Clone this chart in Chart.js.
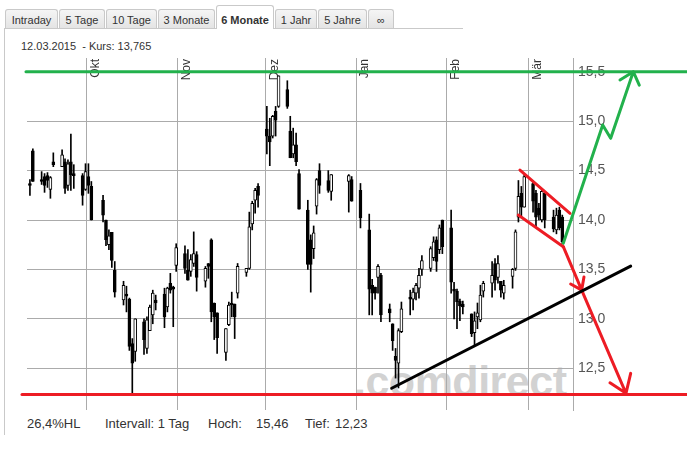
<!DOCTYPE html>
<html><head><meta charset="utf-8">
<script src="https://cdn.jsdelivr.net/npm/chart.js@4/dist/chart.umd.min.js"></script>
<style>
html,body{margin:0;padding:0;background:#fff;}
#wrap{position:relative;width:687px;height:452px;overflow:hidden;font-family:"Liberation Sans",Arial,sans-serif;color:#333;}
.tab{position:absolute;top:9px;height:19px;box-sizing:border-box;border:1px solid #c9c9c9;border-bottom:none;border-radius:3px 3px 0 0;background:linear-gradient(#f5f5f5,#e4e4e4);font-size:11px;color:#333;text-align:center;line-height:21px;}
.tab.active{top:5px;height:24px;background:#fff;font-weight:bold;line-height:28px;z-index:2;}
#tabline{position:absolute;left:4px;top:28px;width:459px;height:1px;background:#c9c9c9;}
#leftline{position:absolute;left:4px;top:28px;width:1px;height:407px;background:#c9c9c9;}
#head{position:absolute;left:21px;top:40px;font-size:11px;color:#333;white-space:pre;}
#wm{position:absolute;left:0;top:0;width:687px;height:410px;overflow:hidden;}
#wm span{position:absolute;left:354px;top:357px;font-size:43px;font-weight:bold;color:#d2d2d2;letter-spacing:-0.5px;white-space:nowrap;}
#c{position:absolute;left:0;top:0;z-index:1;}
.ft{position:absolute;top:416px;font-size:13px;color:#333;white-space:nowrap;}
</style></head>
<body>
<div id="wrap">
  <div class="tab" style="left:5px;width:53px">Intraday</div>
  <div class="tab" style="left:59px;width:46px">5 Tage</div>
  <div class="tab" style="left:106px;width:51px">10 Tage</div>
  <div class="tab" style="left:158px;width:57px">3 Monate</div>
  <div class="tab active" style="left:216px;width:58px">6 Monate</div>
  <div class="tab" style="left:275px;width:42px">1 Jahr</div>
  <div class="tab" style="left:318px;width:49px">5 Jahre</div>
  <div class="tab" style="left:368px;width:26px">∞</div>
  <div id="tabline"></div>
  <div id="leftline"></div>
  <div id="head">12.03.2015  - Kurs: 13,765</div>
  <div id="wm"><span>.comdirect</span></div>
  <canvas id="c" width="687" height="452"></canvas>
  <div class="ft" style="left:27px">26,4%HL</div>
  <div class="ft" style="left:105px">Intervall: 1 Tag</div>
  <div class="ft" style="left:208px">Hoch:</div>
  <div class="ft" style="left:256px">15,46</div>
  <div class="ft" style="left:305px">Tief:</div>
  <div class="ft" style="left:335px">12,23</div>
</div>
<script>
// ---- data ----
const dates = [
 '2014-09-11','2014-09-12','2014-09-15','2014-09-16','2014-09-17','2014-09-18','2014-09-19',
 '2014-09-22','2014-09-23','2014-09-24','2014-09-25','2014-09-26','2014-09-29','2014-09-30',
 '2014-10-01','2014-10-02','2014-10-06','2014-10-07','2014-10-08','2014-10-09','2014-10-10',
 '2014-10-13','2014-10-14','2014-10-15','2014-10-16','2014-10-17','2014-10-20','2014-10-21',
 '2014-10-22','2014-10-23','2014-10-24','2014-10-27','2014-10-28','2014-10-29','2014-10-30',
 '2014-10-31','2014-11-03','2014-11-04','2014-11-05','2014-11-06','2014-11-07','2014-11-10',
 '2014-11-11','2014-11-12','2014-11-13','2014-11-14','2014-11-17','2014-11-18','2014-11-19',
 '2014-11-20','2014-11-21','2014-11-24','2014-11-25','2014-11-26','2014-11-27','2014-11-28',
 '2014-12-01','2014-12-02','2014-12-03','2014-12-04','2014-12-05','2014-12-08','2014-12-09',
 '2014-12-10','2014-12-11','2014-12-12','2014-12-15','2014-12-16','2014-12-17','2014-12-18',
 '2014-12-19','2014-12-22','2014-12-23','2014-12-29','2014-12-30','2015-01-02','2015-01-05',
 '2015-01-06','2015-01-07','2015-01-08','2015-01-09','2015-01-12','2015-01-13','2015-01-14',
 '2015-01-15','2015-01-16','2015-01-19','2015-01-20','2015-01-21','2015-01-22','2015-01-23',
 '2015-01-26','2015-01-27','2015-01-28','2015-01-29','2015-01-30','2015-02-02','2015-02-03',
 '2015-02-04','2015-02-05','2015-02-06','2015-02-09','2015-02-10','2015-02-11','2015-02-12',
 '2015-02-13','2015-02-16','2015-02-17','2015-02-18','2015-02-19','2015-02-20','2015-02-23',
 '2015-02-24','2015-02-25','2015-02-26','2015-02-27','2015-03-02','2015-03-03','2015-03-04',
 '2015-03-05','2015-03-06','2015-03-09','2015-03-10','2015-03-11','2015-03-12'];
const open = [
 14.37,14.70,14.41,14.44,14.45,14.31,14.59, 14.54,14.59,14.35,14.59,14.47,14.45,14.31,
 14.44,14.34,14.20,14.00,13.75,13.875,13.49, 13.19,13.25,13.20,12.75,12.67,12.97,12.70,
 12.88,13.04,13.19,13.25,13.12,13.36,13.32, 13.54,13.66,13.49,13.48,13.56,13.65,13.38,
 13.56,13.80,13.16,13.06,12.66,12.94,13.16, 13.15,13.26,13.47,13.51,13.96,14.20,14.34,
 14.92,14.85,14.85,15.10,15.15,15.32,14.90, 14.67,14.76,14.47,14.10,13.80,13.71,14.14,
 14.50,14.40,14.29,14.39,14.41,14.30,13.90, 13.34,13.32,13.42,13.44,13.10,12.95,12.62,
 12.55,12.87,13.22,13.20,13.26,13.31,13.50, 13.51,13.62,13.80,13.70,14.00,13.92,13.30,
 13.28,13.18,13.15,13.05,12.86,13.02,12.99, 13.28,13.36,13.56,13.42,13.38,13.26,13.43,
 13.51,14.03,14.27,14.13,14.37,14.27,14.12, 14.00,14.27,14.03,13.90,14.10,14.03];
const high = [
 14.41,14.72,14.49,14.47,14.48,14.44,14.68, 14.71,14.62,14.61,14.87,14.56,14.47,14.57,
 14.57,14.39,14.25,14.00,13.90,13.875,13.58, 13.38,13.33,13.21,12.80,13.00,13.00,13.02,
 13.14,13.29,13.24,13.31,13.32,13.46,13.33, 13.76,13.74,13.70,13.65,13.88,13.68,13.53,
 13.56,13.81,13.16,13.06,12.90,13.17,13.27, 13.15,13.56,13.51,14.08,14.19,14.32,14.37,
 15.15,15.03,15.06,15.15,15.46,15.41,15.05, 14.93,14.88,14.51,14.20,13.85,13.94,14.42,
 14.57,14.50,14.46,14.46,14.44,14.37,14.06, 13.40,13.32,13.55,13.46,13.15,12.95,12.70,
 12.90,13.17,13.29,13.31,13.36,13.51,13.64, 13.73,13.83,13.83,13.95,14.00,14.10,13.37,
 13.30,13.20,13.18,13.05,13.07,13.16,13.34, 13.38,13.58,13.61,13.64,13.38,13.39,13.51,
 13.90,14.40,14.34,14.46,14.40,14.30,14.17, 14.30,14.27,14.10,14.12,14.13,14.05];
const low = [
 14.25,14.39,14.36,14.28,14.33,14.22,14.54, 14.54,14.27,14.30,14.30,14.32,14.15,14.30,
 14.27,14.00,13.98,13.74,13.70,13.52,13.22, 13.14,13.07,12.68,12.23,12.57,12.64,12.65,
 12.88,12.95,13.09,12.91,13.07,13.26,12.92, 13.48,13.46,13.39,13.43,13.53,13.28,13.32,
 13.41,12.97,12.79,12.65,12.58,12.93,13.02, 12.80,13.21,13.43,13.50,13.90,14.07,14.13,
 14.67,14.55,14.83,14.85,15.14,15.13,14.63, 14.63,14.55,14.11,13.50,13.27,13.61,14.06,
 14.27,14.28,14.20,14.08,14.19,13.92,13.04, 13.04,13.20,13.26,12.97,12.97,12.68,12.40,
 12.30,12.86,13.04,13.09,13.19,13.21,13.44, 13.48,13.59,13.48,13.66,13.66,13.26,13.00,
 12.90,12.98,13.05,12.82,12.73,12.90,12.97, 13.22,13.22,13.29,13.36,13.22,13.20,13.31,
 13.49,13.98,14.03,14.13,14.08,13.93,14.00, 13.98,13.92,13.88,13.86,13.90,13.76];
const close = [
 14.35,14.39,14.39,14.35,14.40,14.43,14.56, 14.66,14.32,14.57,14.46,14.45,14.25,14.49,
 14.35,14.00,14.05,13.80,13.84,13.59,13.27, 13.34,13.23,12.72,12.55,13.00,12.79,12.99,
 13.12,13.26,13.16,13.02,13.31,13.29,13.30, 13.72,13.51,13.39,13.60,13.66,13.42,13.51,
 13.53,13.07,13.02,12.81,12.90,13.14,13.14, 13.02,13.53,13.51,13.93,14.17,14.30,14.25,
 14.85,14.79,15.05,15.01,15.46,15.15,14.63, 14.76,14.59,14.11,13.55,13.55,13.87,14.41,
 14.35,14.30,14.46,14.45,14.19,14.02,13.30, 13.26,13.26,13.53,13.04,13.06,12.78,12.58,
 12.88,13.10,13.20,13.27,13.34,13.44,13.59, 13.71,13.78,13.58,13.92,13.73,13.37,13.28,
 13.17,13.13,13.12,12.85,12.98,13.06,13.24, 13.36,13.44,13.39,13.56,13.29,13.34,13.50,
 13.88,14.24,14.13,14.44,14.19,14.03,14.05, 14.29,14.00,13.91,14.05,13.92,13.78];

const monthStarts = ['2014-10-01','2014-11-01','2014-12-01','2015-01-01','2015-02-01','2015-03-01'];
const monthLabels = ['Okt','Nov','Dez','Jan','Feb','Mär'];
const yTicks = [12.5, 13.0, 13.5, 14.0, 14.5, 15.0, 15.5];

// drawn annotations (x in days after 2014-10-01, y in EUR)
const resistanceLevel = 15.5;
const supportLevel = 12.235;
const greenLevelDays = [-21.35, 204.6];
const redLevelDays = [-22.72, 204.6];
const trendDays = [103.67, 185.38];   const trendVals = [12.297, 13.534];
const chanUpDays = [147.53, 164.63];  const chanUpVals = [14.506, 14.068];
const chanLoDays = [146.95, 162.34];  const chanLoVals = [14.051, 13.730];
const greenArrowDays = [162.34, 175.81, 178.54, 186.27, 181.72, 186.27, 188.32];
const greenArrowVals = [13.764, 14.962, 14.827, 15.501, 15.417, 15.501, 15.366];
const redArrowDays = [162.34, 168.63, 164.87, 168.63, 169.41, 168.63, 183.77, 178.30, 183.77, 185.38];
const redArrowVals = [13.730, 13.291, 13.352, 13.291, 13.423, 13.291, 12.246, 12.353, 12.246, 12.448];

// ---- build ----
const DAY0 = Date.UTC(2014, 9, 1);
const toDay = s => (Date.UTC(+s.slice(0,4), +s.slice(5,7)-1, +s.slice(8,10)) - DAY0) / 86400000;
const xs = dates.map(toDay);
const bodyData = xs.map((x,i) => ({x, y:[open[i], close[i]]}));
const wickData = xs.map((x,i) => ({x, y:[low[i], high[i]]}));
const bodyFill = xs.map((x,i) => close[i] >= open[i] ? '#ffffff' : '#000000');
const monthX = monthStarts.map(s => toDay(s) - 0.5);
const pts = (xa, ya) => xa.map((x,i) => ({x, y: ya[i]}));

const GREEN = '#22b14c', RED = '#ed1c24';
const lineDs = (data, color, order) => ({
  type:'line', data, borderColor:color, backgroundColor:color, borderWidth:3,
  pointRadius:0, pointHoverRadius:0, fill:false, tension:0, clip:false, order,
  borderCapStyle:'round', borderJoinStyle:'round'
});

const monthLabelPlugin = {
  id:'monthLabels',
  beforeDatasetsDraw(chart){
    const {ctx, chartArea, scales:{x}} = chart;
    ctx.save();
    ctx.font = '12px "Liberation Sans", Arial, sans-serif';
    ctx.fillStyle = '#333';
    ctx.textAlign = 'right';
    ctx.textBaseline = 'top';
    monthX.forEach((v,i) => {
      const px = x.getPixelForValue(v);
      ctx.save();
      ctx.translate(px + 3, chartArea.top + 1);
      ctx.rotate(-Math.PI/2);
      ctx.fillText(monthLabels[i], 0, 0);
      ctx.restore();
    });
    ctx.restore();
  }
};

new Chart(document.getElementById('c'), {
  type:'bar',
  data:{ datasets:[
    lineDs(pts(greenLevelDays, [resistanceLevel, resistanceLevel]), GREEN, 0),
    lineDs(pts(redLevelDays, [supportLevel, supportLevel]), RED, 0),
    lineDs(pts(trendDays, trendVals), '#000', 0),
    lineDs(pts(chanUpDays, chanUpVals), RED, 0),
    lineDs(pts(chanLoDays, chanLoVals), RED, 0),
    lineDs(pts(greenArrowDays, greenArrowVals), GREEN, 0),
    lineDs(pts(redArrowDays, redArrowVals), RED, 0),
    { type:'bar', data:bodyData, backgroundColor:bodyFill, borderColor:'#000', borderWidth:1,
      borderSkipped:false, barThickness:3, grouped:false, order:2 },
    { type:'bar', data:wickData, backgroundColor:'#000', borderWidth:0,
      barThickness:1, grouped:false, order:3 }
  ]},
  options:{
    responsive:false, animation:false, events:[],
    layout:{padding:{left:27, top:58, right:0, bottom:42}},
    plugins:{legend:{display:false}, tooltip:{enabled:false}},
    scales:{
      x:{ type:'linear', offset:false, bounds:'data',
        afterDataLimits:s => { s.min = -21.0; s.max = 165.66; },
        afterBuildTicks:s => { s.ticks = monthX.map(v => ({value:v})); },
        afterFit:s => { s.height = 0; },
        grid:{color:'#ababab', lineWidth:1, drawTicks:false, offset:false},
        border:{display:false}, ticks:{display:false} },
      y:{ type:'linear', position:'right', bounds:'data',
        afterDataLimits:s => { s.min = 12.077; s.max = 15.64; },
        afterBuildTicks:s => { s.ticks = yTicks.map(v => ({value:v})); },
        afterFit:s => { s.width = 114; },
        grid:{color:'#ababab', lineWidth:1, drawTicks:false},
        border:{display:true, color:'#ababab', width:1},
        ticks:{ padding:5, color:'#555', font:{family:'"Liberation Sans", Arial, sans-serif', size:14},
          callback:v => v.toFixed(1).replace('.', ',') } }
    }
  },
  plugins:[monthLabelPlugin]
});
</script>
</body></html>
